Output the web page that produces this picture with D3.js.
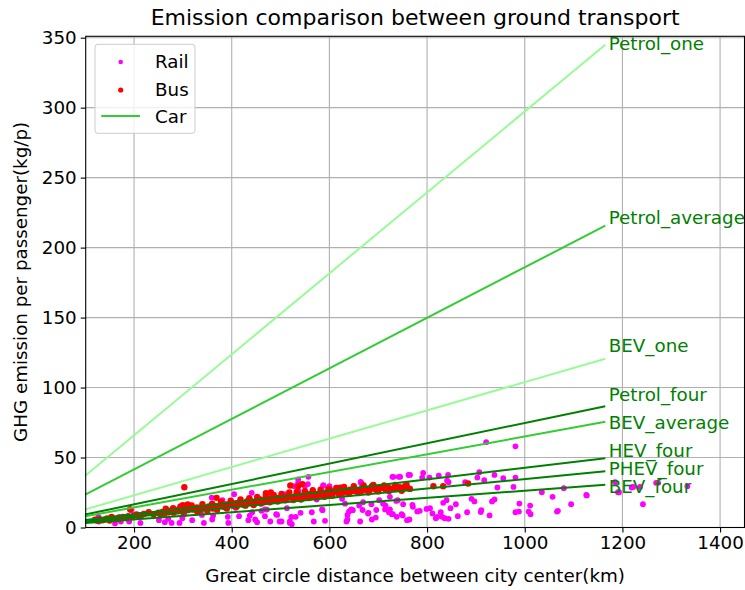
<!DOCTYPE html>
<html><head><meta charset="utf-8">
<script src="https://cdn.jsdelivr.net/npm/d3@7"></script>
<style>body{margin:0;background:#fff}svg{display:block}text{font-family:"DejaVu Sans",sans-serif}</style>
</head><body>
<svg id="chart" width="745" height="590"></svg>
<script>
// ---------- data ----------
const titleText = "Emission comparison between ground transport";
const xLabel = "Great circle distance between city center(km)";
const yLabel = "GHG emission per passenger(kg/p)";
const xTicks = [200, 400, 600, 800, 1000, 1200, 1400];
const yTicks = [0, 50, 100, 150, 200, 250, 300, 350];

const railPoints = [
 [127,7.6],[128,4.3],[161,2.9],[173,4.3],[171,7.6],[187,6.2],[194,12.4],[190,4.3],[213,3.3],[216,9],
 [251,5.2],[263,3.8],[270,6.2],[277,3.3],[293,3.3],[299,6.6],[303,9.5],[319,5.2],[339,9],[343,3.3],
 [359,21.4],[360,5.7],[362,8.5],[381,19.6],[386,15.2],[392,7.6],[393,3.3],[405,23.8],[408,14],[415,8.1],
 [434,5.2],[437,8.5],[452,3.8],[461,11.9],[468,8.1],[472,12.8],[479,4.3],[491,9.5],[498,4.3],[510,23.8],
 [513,13.8],[519,3.3],[522,7.5],[528,29.5],[536,31.9],[537,26],[541,10.5],[550,29.5],[552,24],[568,4.3],
 [574,20],[587,30],[585,12.9],[591,4.8],[600,29.5],
 [441,24.8],[442,10.9],[448,5.7],[468,12.9],[493,9],[502,4.3],[519,4.3],[523,2.4],[531,7.6],[536,34.3],
 [557,36.2],[556,31],[564,10.9],[586,12.4],[588,30],[626,20.5],[635,4.3],[640,11.4],[645,13],[663,4.3],
 [665,31.9],[668,30],[680,10.5],[687,5.7],[702,19.5],[714,12.9],[722,10.9],[729,36.2],[730,9.5],[737,19],
 [742,36.2],[748,9.5],[759,5.2],[762,37.6],
 [921,61],[981,58],[731,36.2],[745,36.2],[765,37.6],[792,39],[790,35.7],[805,35.7],[824,37.1],[843,37.6],
 [844,32.4],[841,33.5],[878,32.4],[903,35.7],[907,39.5],[917,33.8],[938,37.6],[956,35.2],[981,35.7],[977,29],
 [944,28.6],[1035,25.2],[1057,21.9],[1080,28.1],[1095,16.6],[1068,11.9],[1011,15.7],[1008,11.4],[1012,9.5],[989,17.1],
 [988,11.4],[981,10.9],[938,20],[933,18.6],[911,12.4],[910,11],[928,8.6],[891,20.5],[897,18.6],[882,10.9],
 [863,8.1],[859,16.6],[848,13.8],[840,19.5],[833,17.6],[828,10.9],[844,6.2],[836,6.6],[831,7.6],[821,7.6],
 [818,6.6],[811,10],[806,13.8],[799,13.3],[785,11.9],[780,11.5],[770,16.2],[771,14.8],[764,5.7],[751,16.6],
 [740,19.5],[750,8.6],[738,7.6],[728,9.5],[724,12.9],[724,21.9],[715,15.7],[710,17],[695,7.1],[696,12.5],
 [686,16.6],[679,10],[668,12.5],[661,15.7],[648,12.4],[644,12.4],[637,5.7],[637,9],[632,17],[669,18.1],
 [666,31.4],[664,32.5],
 [1126,23.3],[1185,32.4],[1193,25.2],[1219,28.6],[1242,16.6],[1273,31.9],[1333,29.5],[1191,25.2],[1222,29],[1236,29],
 [1269,31.9],[1066,11.4],[1127,22.9]
];

const busPoints = [
 [120,5.5],[125,4.8],[130,6],[135,5.2],[140,5.7],[145,6.5],[150,5],[154,7.6],[158,6.2],[162,5.8],
 [168,7],[172,6.4],[178,7.5],[182,6.8],[188,8.1],[192,13],[196,7.4],[200,8.6],[205,9.3],[209,8],
 [214,8.8],[220,9.6],[250,10.5],[254,9.4],[258,11.2],[262,10],[266,11.6],[270,10.8],[274,12],[277,11.7],
 [281,10.6],[285,12.5],[289,11.5],[293,13],[297,12.2],[300,11],[303,28.8],[304,14],[307,13.2],[310,12.4],
 [313,14.2],[316,13.5],[320,12.8],[325,12.9],[329,14.3],[333,13.6],[337,12.6],[341,14.6],[345,14],[349,13.2],
 [353,15],[357,14.4],[361,13.5],[366,15.2],[369,21.2],[372,14.8],[376,16],[380,15.4],[384,14.6],[388,16.5],
 [392,15.8],[396,17],[400,16.4],[404,15.5],[408,17.4],[412,16.8],[416,18],[420,17.2],[424,16.2],[427,17.6],
 [431,18.6],[435,17.8],[439,19],[443,18.2],[447,17.2],[451,19.4],[455,18.6],[459,20],[463,19.2],[467,18.2],
 [471,20.4],[475,19.6],[479,20.8],[483,20],[487,19],[491,21.2],[495,20.4],[499,21.5],[503,20.8],[507,19.8],
 [511,22],[515,21.2],[519,22.4],[523,21.6],[527,20.6],[531,22.6],[535,21.8],[536,29.5],[539,23],[543,22.2],
 [547,21.4],[551,23.4],[555,22.6],[559,23.8],[563,23],[567,22],[571,24],[575,23.2],[579,24.4],[583,23.6],
 [587,22.8],[591,24.8],[595,24],[598,23.6],[601,27.1],[605,25.2],[608,24.8],[612,26],[616,25.4],[622,28.4],
 [625,27.6],[628,24.8],[633,26.5],[637,25.6],[642,27.1],[647,26],[652,27.4],[656,25.8],[663,27.1],[667,26.2],
 [672,28],[676,27],[682,26.4],[687,29.5],[691,27.8],[696,26.8],[700,28.6],[707,28.4],[710,28.4],[715,27.2],
 [720,28.8],[726,27.6],[732,28.2],[738,27.6],[744,28.8],[749,27.2],[755,29.5],[760,28.2],[765,27.6],[813,29.5],
 [833,29.5],[884,31.4],
 [230,11],[240,9.5],[265,13.5],[280,13.8],[295,15],[300,16],[310,16.5],[318,15.8],[330,11],[340,16.6],
 [350,11.8],[360,17],[370,12.6],[378,18.4],[390,13.6],[398,19.2],[410,14.8],[418,20],[428,15.6],[436,21],
 [445,16],[452,21.8],[460,17.2],[470,22.8],[478,18],[486,23.2],[494,18.6],[502,24],[510,19.4],[518,25],
 [526,19.6],[533,25.4],[542,20],[550,26],[558,21],[566,26.6],[574,21.4],[582,27],[590,22],[598,27.6],
 [606,22.6],[614,28.2],[620,23.4],[630,29],[640,24],[650,29.6],[660,24.6],[670,30],[680,25],[690,30.4],
 [700,25.8],[712,30],[722,26],[735,30.4],[748,26.2],[758,30.6],[520,30],[545,31],[470,24.5],[480,25]
];

const carNames   = ["Petrol_one","Petrol_average","BEV_one","Petrol_four","BEV_average","HEV_four","PHEV_four","BEV_four"];
const carStartKm = [100, 100, 100, 100, 100, 100, 100, 100];
const carEndKm   = [1165, 1165, 1165, 1165, 1165, 1165, 1165, 1165];
const carStart   = [37, 23.5, 12.9, 9.3, 8.0, 5.3, 4.3, 3.3];
const carEnd     = [345, 215.7, 120.6, 86.7, 75.5, 49.5, 40.2, 30.5];
const carKind    = ["one","average","one","four","average","four","four","four"];
const carLabelKm = [1172, 1172, 1172, 1172, 1172, 1172, 1172, 1172];
const carLabelY  = [341.5, 216.7, 125.7, 90.1, 70.3, 50.6, 37.6, 24.3];

const legendNames = ["Rail","Bus","Car"];

// ---------- drawing ----------
const FS = 18.3;
const svg = d3.select("#chart");
const M = {left: 85.7, right: 744.5, top: 36.3, bottom: 527.5};
const x = d3.scaleLinear().domain([101, 1450]).range([M.left, M.right]);
const y = d3.scaleLinear().domain([0, 351]).range([M.bottom, M.top]);
const kindColor = {one: "#98fb98", average: "#32cd32", four: "#008000"};

// grid
const g = svg.append("g");
g.selectAll(".gx").data(xTicks).join("line")
  .attr("x1", d => x(d)).attr("x2", d => x(d)).attr("y1", M.top).attr("y2", M.bottom)
  .attr("stroke", "#b0b0b0").attr("stroke-width", 1.1);
g.selectAll(".gy").data(yTicks).join("line")
  .attr("y1", d => y(d)).attr("y2", d => y(d)).attr("x1", M.left).attr("x2", M.right)
  .attr("stroke", "#b0b0b0").attr("stroke-width", 1.1);

const plot = svg.append("g");
plot.selectAll(".rail").data(railPoints).join("circle")
  .attr("cx", d => x(d[0])).attr("cy", d => y(d[1])).attr("r", 2.9).attr("fill", "#ff00ff");
plot.selectAll(".bus").data(busPoints).join("circle")
  .attr("cx", d => x(d[0])).attr("cy", d => y(d[1])).attr("r", 3.2).attr("fill", "#ff0000");

carNames.forEach((n, i) => {
  plot.append("line")
    .attr("x1", x(carStartKm[i])).attr("y1", y(carStart[i]))
    .attr("x2", x(carEndKm[i])).attr("y2", y(carEnd[i]))
    .attr("stroke", kindColor[carKind[i]]).attr("stroke-width", 2);
  plot.append("text").attr("x", x(carLabelKm[i])).attr("y", y(carLabelY[i]))
    .attr("fill", "#008000").attr("font-size", FS).text(n);
});

// axes
const fmt = d3.format("d");
const xAxis = d3.axisBottom(x).tickValues(xTicks).tickFormat(fmt).tickSize(5).tickPadding(4);
const yAxis = d3.axisLeft(y).tickValues(yTicks).tickFormat(fmt).tickSize(5).tickPadding(4);
const ax = svg.append("g").attr("transform", `translate(0,${M.bottom})`).call(xAxis);
const ay = svg.append("g").attr("transform", `translate(${M.left},0)`).call(yAxis);
[ax, ay].forEach(a => {
  a.select(".domain").remove();
  a.selectAll("text").attr("font-size", FS).attr("fill", "#000").attr("font-family", "DejaVu Sans");
  a.selectAll("line").attr("stroke", "#000").attr("stroke-width", 1.1);
});
// spines
svg.append("rect").attr("x", M.left).attr("y", M.top).attr("width", M.right - M.left)
  .attr("height", M.bottom - M.top).attr("fill", "none").attr("stroke", "#000").attr("stroke-width", 1.1);

// title & labels
svg.append("text").attr("x", (M.left + M.right) / 2).attr("y", 25).attr("text-anchor", "middle")
  .attr("font-size", 22).text(titleText);
svg.append("text").attr("x", (M.left + M.right) / 2).attr("y", 582).attr("text-anchor", "middle")
  .attr("font-size", FS).text(xLabel);
svg.append("text").attr("transform", `translate(27,${(M.top + M.bottom) / 2}) rotate(-90)`)
  .attr("text-anchor", "middle").attr("font-size", FS).text(yLabel);

// legend
const lg = svg.append("g");
lg.append("rect").attr("x", 95).attr("y", 44.3).attr("width", 100).attr("height", 89)
  .attr("rx", 3).attr("fill", "#fff").attr("fill-opacity", 0.8).attr("stroke", "#cccccc").attr("stroke-width", 1);
lg.append("circle").attr("cx", 120.7).attr("cy", 62).attr("r", 2.3).attr("fill", "#ff00ff");
lg.append("circle").attr("cx", 120.7).attr("cy", 90).attr("r", 2.6).attr("fill", "#ff0000");
lg.append("line").attr("x1", 101.3).attr("x2", 140).attr("y1", 116).attr("y2", 116)
  .attr("stroke", "#32cd32").attr("stroke-width", 2);
const legendY = [67.5, 95.5, 122.5];
legendNames.forEach((n, i) => {
  lg.append("text").attr("x", 155).attr("y", legendY[i]).attr("font-size", FS).text(n);
});
</script>
</body></html>
